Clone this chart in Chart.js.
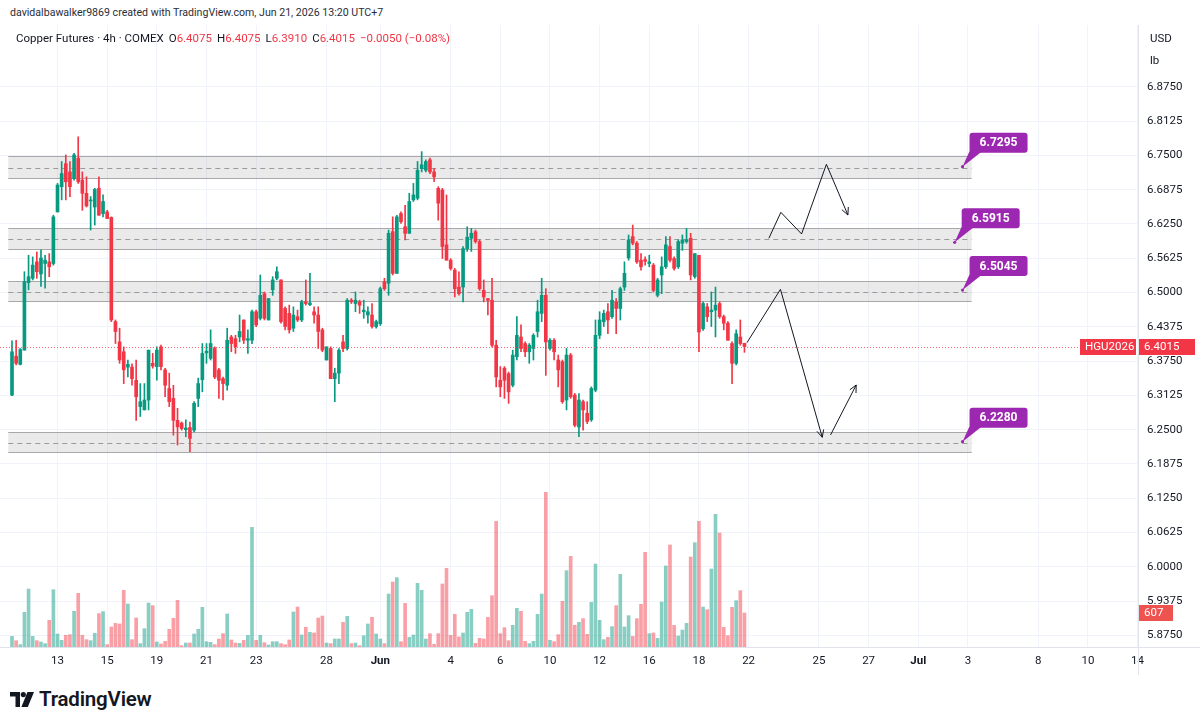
<!DOCTYPE html>
<html>
<head>
<meta charset="utf-8">
<script src="https://cdn.jsdelivr.net/npm/chart.js@4.4.1/dist/chart.umd.min.js"></script>
<style>
  body { margin: 0; background: #fff; font-family: Roboto, "Liberation Sans", sans-serif; color: #131722; }
  #wrap { position: relative; width: 1200px; height: 724px; overflow: hidden; }
  #grafico { position: absolute; left: 0; top: 25px; }
  .credito { position: absolute; left: 10px; top: 6px; font-size: 10.6px; color: #2a2e39; }
  .legenda { position: absolute; left: 16px; top: 31px; font-size: 11.5px; color: #131722; }
  .legenda .v { color: #f23645; }
  .legenda span { margin-right: 5px; }
  .moeda { position: absolute; left: 1150px; font-size: 11.5px; color: #131722; }
  .logo { position: absolute; left: 10px; top: 687px; display: flex; align-items: center; }
  .logo b { font-size: 20.5px; font-weight: 600; margin-left: 5px; letter-spacing: -0.2px; }
</style>
</head>
<body>
<div id="wrap">
  <div class="credito">davidalbawalker9869 created with TradingView.com, Jun 21, 2026 13:20 UTC+7</div>
  <canvas id="grafico" width="1200" height="650"></canvas>
  <div class="legenda"><span>Copper Futures · 4h · COMEX</span><span>O<i class="v" style="font-style:normal">6.4075</i></span><span>H<i class="v" style="font-style:normal">6.4075</i></span><span>L<i class="v" style="font-style:normal">6.3910</i></span><span>C<i class="v" style="font-style:normal">6.4015</i></span><span class="v">−0.0050 (−0.08%)</span></div>
  <div class="moeda" style="top:31px">USD</div>
  <div class="moeda" style="top:53px">lb</div>
  <div class="logo">
    <svg width="24" height="15" viewBox="0 0 24 15"><path d="M0 0h10v15H5.5V4.5H0z" fill="#131722"/><circle cx="13.3" cy="2.6" r="2.6" fill="#131722"/><path d="M17.5 0H24l-6.2 15h-6.4z" fill="#131722"/></svg>
    <b>TradingView</b>
  </div>
</div>
<script>
// candles 4h (open, high, low, close)
const aberturas = [
  6.313,6.384,6.369,6.395,6.518,6.526,6.556,6.534,6.553,6.556,
  6.553,6.647,6.693,6.735,6.720,6.708,6.745,6.705,6.681,6.667,
  6.656,6.690,6.644,6.647,6.637,6.447,6.410,6.392,6.364,6.364,
  6.340,6.292,6.286,6.304,6.371,6.365,6.401,6.359,6.325,6.307,
  6.267,6.262,6.250,6.254,6.249,6.307,6.341,6.390,6.380,6.398,
  6.359,6.343,6.331,6.419,6.416,6.419,6.450,6.413,6.413,6.465,
  6.453,6.498,6.450,6.505,6.526,6.523,6.471,6.462,6.435,6.456,
  6.450,6.483,6.478,6.465,6.459,6.432,6.377,6.398,6.343,6.353,
  6.410,6.398,6.486,6.480,6.483,6.465,6.459,6.459,6.438,6.443,
  6.520,6.517,6.611,6.535,6.644,6.620,6.608,6.669,6.672,6.726,
  6.723,6.742,6.720,6.690,6.687,6.587,6.559,6.541,6.510,6.510,
  6.580,6.599,6.611,6.593,6.504,6.489,6.486,6.404,6.340,6.362,
  6.352,6.331,6.383,6.419,6.407,6.392,6.398,6.429,6.462,6.495,
  6.398,6.413,6.377,6.374,6.304,6.386,6.313,6.255,6.301,6.280,
  6.268,6.322,6.422,6.447,6.465,6.456,6.483,6.471,6.510,6.563,
  6.602,6.590,6.559,6.560,6.553,6.550,6.495,6.532,6.547,6.584,
  6.562,6.547,6.590,6.593,6.599,6.529,6.568,6.434,6.474,6.465,
  6.468,6.480,6.456,6.444,6.407,6.371,6.419,6.4075
];
const maximas = [
  6.412,6.413,6.398,6.538,6.568,6.565,6.574,6.578,6.568,6.571,
  6.641,6.699,6.739,6.751,6.739,6.754,6.784,6.720,6.711,6.675,
  6.690,6.711,6.678,6.650,6.638,6.450,6.435,6.401,6.377,6.370,
  6.377,6.334,6.334,6.395,6.389,6.401,6.404,6.362,6.353,6.331,
  6.289,6.264,6.268,6.264,6.301,6.344,6.407,6.407,6.432,6.401,
  6.362,6.346,6.435,6.422,6.422,6.459,6.450,6.432,6.468,6.468,
  6.532,6.501,6.489,6.529,6.547,6.523,6.474,6.477,6.474,6.468,
  6.486,6.523,6.535,6.474,6.474,6.435,6.401,6.401,6.362,6.398,
  6.422,6.489,6.489,6.501,6.486,6.486,6.474,6.480,6.450,6.510,
  6.526,6.614,6.638,6.641,6.647,6.659,6.681,6.699,6.739,6.757,
  6.742,6.745,6.726,6.693,6.690,6.678,6.562,6.544,6.538,6.584,
  6.620,6.617,6.614,6.596,6.523,6.489,6.526,6.413,6.365,6.365,
  6.355,6.395,6.456,6.441,6.410,6.407,6.425,6.486,6.526,6.507,
  6.416,6.416,6.386,6.377,6.398,6.389,6.316,6.316,6.304,6.301,
  6.328,6.450,6.465,6.468,6.480,6.504,6.489,6.510,6.556,6.605,
  6.623,6.593,6.571,6.565,6.568,6.553,6.526,6.565,6.602,6.602,
  6.565,6.596,6.605,6.617,6.608,6.571,6.568,6.483,6.480,6.501,
  6.510,6.483,6.459,6.447,6.410,6.432,6.450,6.4075
];
const minimas = [
  6.312,6.368,6.368,6.395,6.505,6.523,6.526,6.511,6.508,6.529,
  6.550,6.647,6.669,6.669,6.675,6.705,6.699,6.650,6.656,6.614,
  6.623,6.641,6.638,6.635,6.447,6.407,6.371,6.334,6.346,6.331,
  6.267,6.274,6.286,6.286,6.362,6.340,6.359,6.310,6.292,6.240,
  6.222,6.249,6.237,6.210,6.246,6.292,6.319,6.371,6.377,6.343,
  6.307,6.304,6.322,6.392,6.389,6.410,6.407,6.389,6.407,6.438,
  6.450,6.450,6.450,6.495,6.523,6.444,6.432,6.426,6.429,6.447,
  6.447,6.477,6.476,6.444,6.398,6.392,6.377,6.343,6.301,6.334,
  6.392,6.395,6.480,6.465,6.462,6.453,6.444,6.435,6.435,6.440,
  6.504,6.495,6.532,6.535,6.626,6.596,6.608,6.666,6.669,6.720,
  6.720,6.717,6.702,6.632,6.562,6.559,6.541,6.492,6.495,6.483,
  6.575,6.575,6.590,6.504,6.483,6.459,6.401,6.328,6.310,6.307,
  6.298,6.328,6.377,6.392,6.383,6.371,6.377,6.419,6.447,6.349,
  6.395,6.377,6.328,6.298,6.286,6.307,6.255,6.237,6.249,6.261,
  6.265,6.319,6.416,6.438,6.425,6.453,6.425,6.450,6.504,6.559,
  6.587,6.553,6.541,6.550,6.547,6.501,6.492,6.498,6.544,6.556,
  6.541,6.544,6.577,6.590,6.523,6.526,6.392,6.431,6.447,6.438,
  6.419,6.453,6.432,6.413,6.334,6.368,6.404,6.391
];
const fechamentos = [
  6.392,6.371,6.396,6.520,6.529,6.550,6.538,6.563,6.559,6.547,
  6.638,6.696,6.717,6.702,6.693,6.751,6.702,6.681,6.658,6.668,
  6.688,6.641,6.666,6.635,6.450,6.429,6.377,6.359,6.369,6.343,
  6.310,6.301,6.304,6.395,6.366,6.395,6.365,6.331,6.301,6.267,
  6.255,6.252,6.253,6.234,6.298,6.334,6.389,6.393,6.407,6.346,
  6.340,6.334,6.413,6.407,6.401,6.429,6.413,6.416,6.465,6.441,
  6.495,6.453,6.489,6.523,6.538,6.447,6.438,6.432,6.459,6.450,
  6.483,6.480,6.481,6.459,6.429,6.395,6.401,6.343,6.353,6.395,
  6.398,6.486,6.483,6.486,6.477,6.468,6.465,6.438,6.447,6.507,
  6.507,6.608,6.535,6.638,6.629,6.608,6.666,6.678,6.723,6.733,
  6.739,6.720,6.711,6.663,6.584,6.559,6.544,6.507,6.498,6.580,
  6.601,6.608,6.593,6.507,6.492,6.486,6.404,6.346,6.328,6.340,
  6.319,6.386,6.422,6.398,6.392,6.404,6.422,6.465,6.495,6.410,
  6.413,6.392,6.359,6.301,6.386,6.310,6.258,6.304,6.286,6.265,
  6.325,6.422,6.450,6.462,6.450,6.486,6.471,6.507,6.535,6.596,
  6.590,6.556,6.547,6.557,6.556,6.504,6.523,6.547,6.587,6.559,
  6.544,6.593,6.596,6.596,6.532,6.571,6.428,6.480,6.456,6.468,
  6.477,6.456,6.444,6.413,6.371,6.425,6.407,6.4015
];
const volumes = [
  190,113,42,619,1035,190,113,89,60,476,
  1023,232,119,208,220,637,958,208,131,113,
  244,595,631,42,357,422,411,1012,768,131,
  518,60,327,785,738,89,54,101,315,512,
  833,24,71,71,232,315,708,95,83,42,
  143,238,589,125,71,65,119,208,2136,119,
  208,77,36,95,95,60,42,125,625,714,
  214,351,262,250,518,553,71,60,143,143,
  440,547,60,71,24,202,411,530,232,143,
  60,946,1160,1238,95,779,173,214,1136,1012,
  143,238,48,238,1125,1404,208,583,179,250,
  619,672,65,155,143,530,916,2243,238,345,
  113,387,690,637,101,60,101,583,946,2761,
  119,95,220,815,1363,1618,387,440,506,226,
  797,1482,476,131,173,363,738,1297,357,559,
  190,506,762,1690,238,250,155,803,1446,1821,
  387,196,303,422,1607,1862,2243,714,666,1392,
  2368,2035,351,202,708,827,1006,607
];

// eixo de tempo (posição em barras)
const marcasTempo = [11, 23, 35, 47, 59, 76, 89, 106, 118, 130, 142, 154, 166, 178, 195, 207, 219, 231, 248, 260, 272];
const rotulosTempo = ['13', '15', '19', '21', '23', '28', 'Jun', '4', '6', '10', '12', '16', '18', '22', '25', '27', 'Jul', '3', '8', '10', '14'];
const marcasPreco = [5.875, 5.9375, 6.0, 6.0625, 6.125, 6.1875, 6.25, 6.3125, 6.375, 6.4375, 6.5, 6.5625, 6.625, 6.6875, 6.75, 6.8125, 6.875];

// zonas e niveis desenhados
const zonasTopo = [6.749, 6.617, 6.5216, 6.2463];
const zonasFundo = [6.709, 6.579, 6.4846, 6.2087];
const niveis = [6.7295, 6.5915, 6.5045, 6.2280];
const niveisAncora = [229.7, 227.8, 229.7, 229.7];
const zonaInicio = -0.9;
const zonaFim = 231.9;

// setas de projeção
const setaAltaX = [182.9, 185.8, 190.8, 196.8, 202.0];
const setaAltaY = [6.599, 6.6463, 6.6068, 6.7339, 6.6414];
const setaQuedaX = [177.6, 185.7, 195.8];
const setaQuedaY = [6.4086, 6.5059, 6.2361];
const setaRepiqueX = [197.8, 204.0];
const setaRepiqueY = [6.2403, 6.3314];

const precoAtual = 6.4015;
const volumeAtual = 607;

const VERDE = '#089981';
const VERMELHO = '#f23645';
const fonte = 'Roboto, "Liberation Sans", sans-serif';

const sobe = (i) => fechamentos[i] >= aberturas[i];
const indices = aberturas.map((_, i) => i);
const pontos = (xs, ys) => xs.map((x, k) => ({ x, y: ys[k] }));

const desenhos = {
    id: 'desenhos',
    beforeDatasetsDraw(chart) {
        const { ctx, scales: { x, y } } = chart;
        ctx.save();
        const x0 = x.getPixelForValue(zonaInicio);
        const x1 = x.getPixelForValue(zonaFim);
        zonasTopo.forEach((topo, k) => {
            const y0 = Math.round(y.getPixelForValue(topo)) + 0.5;
            const y1 = Math.round(y.getPixelForValue(zonasFundo[k])) + 0.5;
            ctx.fillStyle = 'rgba(150,150,150,0.2)';
            ctx.fillRect(x0, y0, x1 - x0, y1 - y0);
            ctx.strokeStyle = '#a8a8a8';
            ctx.lineWidth = 1;
            ctx.setLineDash([]);
            ctx.beginPath();
            ctx.moveTo(x0, y0); ctx.lineTo(x1, y0);
            ctx.moveTo(x0, y1); ctx.lineTo(x1, y1);
            ctx.stroke();
            const ym = Math.round((y0 + y1) / 2) + 0.5;
            ctx.strokeStyle = '#9a9a9a';
            ctx.setLineDash([5, 4]);
            ctx.beginPath();
            ctx.moveTo(x0, ym); ctx.lineTo(x1, ym);
            ctx.stroke();
        });
        ctx.restore();
    },
    afterDatasetsDraw(chart) {
        const { ctx, chartArea: area, scales: { y } } = chart;
        ctx.save();
        // pontas das setas
        chart.data.datasets.forEach((ds, k) => {
            if (!ds.seta) return;
            const els = chart.getDatasetMeta(k).data;
            const p = els[els.length - 1];
            const q = els[els.length - 2];
            const ang = Math.atan2(p.y - q.y, p.x - q.x);
            ctx.strokeStyle = '#131722';
            ctx.lineWidth = 1;
            ctx.beginPath();
            ctx.moveTo(p.x - 8 * Math.cos(ang - 0.45), p.y - 8 * Math.sin(ang - 0.45));
            ctx.lineTo(p.x, p.y);
            ctx.lineTo(p.x - 8 * Math.cos(ang + 0.45), p.y - 8 * Math.sin(ang + 0.45));
            ctx.stroke();
        });
        // linha do preço atual
        const yp = Math.round(y.getPixelForValue(precoAtual)) + 0.5;
        ctx.strokeStyle = 'rgba(242,54,69,0.75)';
        ctx.setLineDash([1, 2]);
        ctx.beginPath();
        ctx.moveTo(area.left, yp);
        ctx.lineTo(1080, yp);
        ctx.stroke();
        ctx.restore();
    },
    afterDraw(chart) {
        const { ctx, chartArea: area, scales: { x, y, yv } } = chart;
        ctx.save();
        // separadores dos eixos
        ctx.strokeStyle = '#e0e3eb';
        ctx.lineWidth = 1;
        ctx.beginPath();
        ctx.moveTo(area.right + 0.5, 0); ctx.lineTo(area.right + 0.5, chart.height);
        ctx.moveTo(0, area.bottom + 0.5); ctx.lineTo(chart.width, area.bottom + 0.5);
        ctx.stroke();

        ctx.font = '11.5px ' + fonte;
        ctx.textBaseline = 'middle';
        const etiqueta = (texto, xl, yc, w, cor) => {
            ctx.fillStyle = cor;
            ctx.fillRect(xl, Math.round(yc) - 8, w, 16);
            ctx.fillStyle = '#fff';
            ctx.textAlign = 'left';
            ctx.fillText(texto, xl + 5, Math.round(yc) + 0.5);
        };
        const yp = y.getPixelForValue(precoAtual);
        etiqueta('HGU2026', 1080, yp, 56, VERMELHO);
        etiqueta(precoAtual.toFixed(4), area.right + 1, yp, 56, VERMELHO);
        etiqueta(String(volumeAtual), area.right + 1, yv.getPixelForValue(volumeAtual), 34, '#ef5350');

        // rótulos roxos dos níveis
        ctx.font = 'bold 12px ' + fonte;
        niveis.forEach((nivel, k) => {
            const ax = x.getPixelForValue(niveisAncora[k]);
            const ay = y.getPixelForValue(nivel);
            const bx = ax + 7;
            const by = ay - 34;
            ctx.fillStyle = '#9c27b0';
            ctx.beginPath();
            ctx.moveTo(ax, ay);
            ctx.lineTo(bx + 12, by + 19);
            ctx.lineTo(bx + 2, by + 14);
            ctx.closePath();
            ctx.fill();
            ctx.beginPath();
            ctx.roundRect(bx, by, 58, 20, 3);
            ctx.fill();
            ctx.beginPath();
            ctx.arc(ax, ay, 1.6, 0, Math.PI * 2);
            ctx.fill();
            ctx.fillStyle = '#fff';
            ctx.textAlign = 'center';
            ctx.fillText(nivel.toFixed(4), bx + 29, by + 10.5);
        });
        ctx.restore();
    }
};

// sem folga extra nas bordas da área do gráfico
const semFolga = (escala) => {
    escala.paddingTop = 0;
    escala.paddingBottom = 0;
    escala.paddingLeft = 0;
    escala.paddingRight = 0;
};

const grafico = new Chart(document.getElementById('grafico'), {
    type: 'bar',
    data: {
        datasets: [
            {
                label: 'Volume',
                data: indices.map((i) => ({ x: i, y: volumes[i] })),
                yAxisID: 'yv',
                barThickness: 3,
                grouped: false,
                backgroundColor: indices.map((i) => sobe(i) ? 'rgba(8,153,129,0.48)' : 'rgba(242,54,69,0.48)'),
                order: 4
            },
            {
                label: 'Pavio',
                data: indices.map((i) => ({ x: i, y: [minimas[i], maximas[i]] })),
                yAxisID: 'y',
                barThickness: 1,
                grouped: false,
                backgroundColor: indices.map((i) => sobe(i) ? VERDE : VERMELHO),
                order: 3
            },
            {
                label: 'Corpo',
                data: indices.map((i) => ({ x: i, y: [aberturas[i], fechamentos[i]] })),
                yAxisID: 'y',
                barThickness: 3,
                minBarLength: 1,
                grouped: false,
                backgroundColor: indices.map((i) => sobe(i) ? VERDE : VERMELHO),
                order: 2
            },
            {
                type: 'line', label: 'Alta', seta: true,
                data: pontos(setaAltaX, setaAltaY), yAxisID: 'y',
                borderColor: '#131722', borderWidth: 1, pointRadius: 0, tension: 0, order: 1
            },
            {
                type: 'line', label: 'Queda', seta: true,
                data: pontos(setaQuedaX, setaQuedaY), yAxisID: 'y',
                borderColor: '#131722', borderWidth: 1, pointRadius: 0, tension: 0, order: 1
            },
            {
                type: 'line', label: 'Repique', seta: true,
                data: pontos(setaRepiqueX, setaRepiqueY), yAxisID: 'y',
                borderColor: '#131722', borderWidth: 1, pointRadius: 0, tension: 0, order: 1
            }
        ]
    },
    options: {
        responsive: false,
        animation: false,
        devicePixelRatio: 1,
        events: [],
        layout: { padding: 0 },
        plugins: { legend: { display: false }, tooltip: { enabled: false } },
        scales: {
            x: {
                type: 'linear',
                min: -2.9,
                max: 272.1,
                offset: false,
                grid: { color: '#f0f3fa', drawTicks: false, offset: false },
                border: { display: false },
                afterBuildTicks: (escala) => { escala.ticks = marcasTempo.map((v) => ({ value: v })); },
                afterFit: (escala) => { escala.height = 28; semFolga(escala); },
                ticks: {
                    autoSkip: false,
                    maxRotation: 0,
                    padding: 7,
                    color: '#131722',
                    font: (c) => ({ family: fonte, size: 11.5, weight: (c.tick && /J/.test(c.tick.label)) ? 'bold' : 'normal' }),
                    callback: (v, i) => rotulosTempo[i]
                }
            },
            y: {
                type: 'linear',
                position: 'right',
                min: 5.85367,
                max: 6.98787,
                grid: { color: '#f0f3fa', drawTicks: false },
                border: { display: false },
                afterBuildTicks: (escala) => { escala.ticks = marcasPreco.map((v) => ({ value: v })); },
                afterFit: (escala) => { escala.width = 62; semFolga(escala); },
                ticks: {
                    padding: 9,
                    color: '#131722',
                    font: { family: fonte, size: 11.5 },
                    callback: (v) => Number(v).toFixed(4)
                }
            },
            yv: {
                type: 'linear',
                display: false,
                min: 0,
                max: 11105
            }
        }
    },
    plugins: [desenhos]
});
</script>
</body>
</html>
